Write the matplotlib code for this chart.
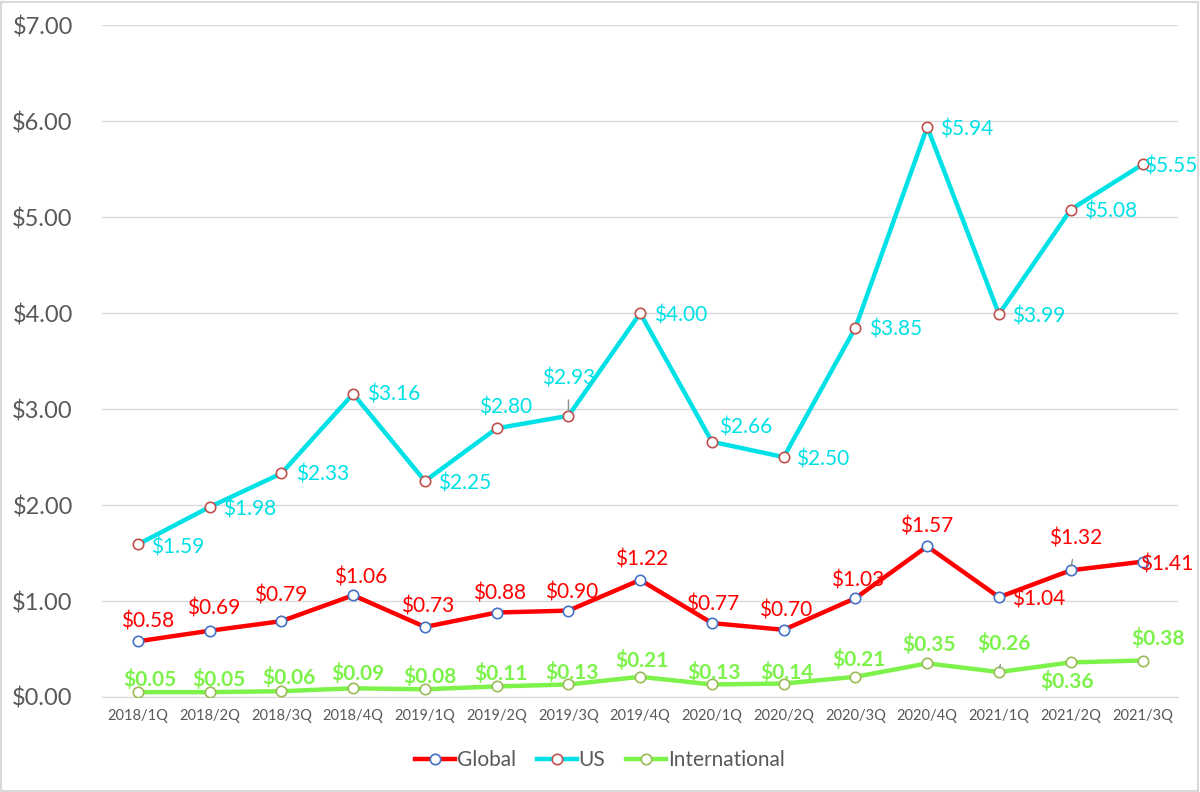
import numpy as np
import matplotlib.pyplot as plt
from matplotlib.patches import Rectangle

plt.rcParams['font.family'] = ['Lato', 'DejaVu Sans']

quarters = ['2018/1Q', '2018/2Q', '2018/3Q', '2018/4Q', '2019/1Q', '2019/2Q', '2019/3Q', '2019/4Q',
            '2020/1Q', '2020/2Q', '2020/3Q', '2020/4Q', '2021/1Q', '2021/2Q', '2021/3Q']
global_vals = [0.58, 0.69, 0.79, 1.06, 0.73, 0.88, 0.90, 1.22, 0.77, 0.70, 1.03, 1.57, 1.04, 1.32, 1.41]
us_vals = [1.59, 1.98, 2.33, 3.16, 2.25, 2.80, 2.93, 4.00, 2.66, 2.50, 3.85, 5.94, 3.99, 5.08, 5.55]
intl_vals = [0.05, 0.05, 0.06, 0.09, 0.08, 0.11, 0.13, 0.21, 0.13, 0.14, 0.21, 0.35, 0.26, 0.36, 0.38]

# label offsets (pixels) from each point
g_off = [(10, 20), (4, 22), (-1, 26), (7, 18), (3, 20), (3, 19), (3, 18), (1, 20), (1, 19), (2, 19),
         (2, 18), (-1, 20), (40, -2), (5, 32), (24, -3)]
u_off = [(40, -3), (40, -3), (41, -1), (40, -1), (40, -2), (9, 21), (0, 37), (40, -2), (34, 14),
         (39, -2), (40, -2), (39, -2), (40, -2), (40, -2), (28, -2)]
i_off = [(12, 13), (9, 13), (8, 14), (5, 15), (5, 13), (4, 13), (4, 12), (2, 16), (2, 12), (3, 11),
         (3, 17), (2, 19), (5, 29), (-4, -19), (16, 22)]
g_lead = {2: True, 13: True}
u_lead = {6: True}
i_lead = {12: True}

x = np.arange(len(quarters))
fig = plt.figure(figsize=(12, 7.92), dpi=100)
ax = fig.add_axes([0.085, 0.12, 0.897, 0.848])

red = '#FF0000'
cyan = '#00E1E6'
green = '#7CF24A'

ax.plot(x, global_vals, color=red, lw=3.2, marker='o', ms=7.5, mfc='white', mec='#4472C4', mew=1.2,
        label='Global', zorder=3)
ax.plot(x, us_vals, color=cyan, lw=3.2, marker='o', ms=7.5, mfc='white', mec='#C0504D', mew=1.2,
        label='US', zorder=3)
ax.plot(x, intl_vals, color=green, lw=3.2, marker='o', ms=7.5, mfc='white', mec='#9BBB59', mew=1.2,
        label='International', zorder=3)

def labels(vals, offs, color, leads, bold=False):
    for i, v in enumerate(vals):
        dx, dy = offs[i]
        ax.annotate(f'${v:.2f}', (x[i], v), xytext=(dx, dy), textcoords='offset pixels',
                    ha='center', va='center', color=color, fontsize=15,
                    fontweight='bold' if bold else 'normal', zorder=4,
                    arrowprops=dict(arrowstyle='-', color='#8C8C8C', lw=1.0, shrinkA=6, shrinkB=3)
                    if leads.get(i) else None)

labels(global_vals, g_off, red, g_lead)
labels(us_vals, u_off, cyan, u_lead)
labels(intl_vals, i_off, green, i_lead, bold=True)

ax.set_xlim(-0.5, len(quarters) - 0.5)
ax.set_ylim(0, 7)
ax.set_yticks(np.arange(0, 8, 1))
ax.set_yticklabels([f'${t:.2f}' for t in range(8)])
ax.set_xticks(x)
ax.set_xticklabels(quarters)
ax.tick_params(axis='y', length=0, pad=21, labelsize=17, labelcolor='#595959')
ax.tick_params(axis='x', length=0, pad=9, labelsize=10.5, labelcolor='#595959')
ax.grid(axis='y', color='#D9D9D9', lw=1)
ax.set_axisbelow(True)
for s in ['top', 'right', 'left']:
    ax.spines[s].set_visible(False)
ax.spines['bottom'].set_color('#D9D9D9')

leg = fig.legend(loc='center', bbox_to_anchor=(0.5, 0.04), ncol=3, frameon=False, fontsize=15,
                 handlelength=1.9, columnspacing=1.0, handletextpad=0.1)
for t in leg.get_texts():
    t.set_color('#595959')

fig.patches.append(Rectangle((0.001, 0.001), 0.997, 0.997, transform=fig.transFigure, fill=False,
                             edgecolor='#D9D9D9', lw=1.5))

plt.savefig('out.png', dpi=100, facecolor='white')
